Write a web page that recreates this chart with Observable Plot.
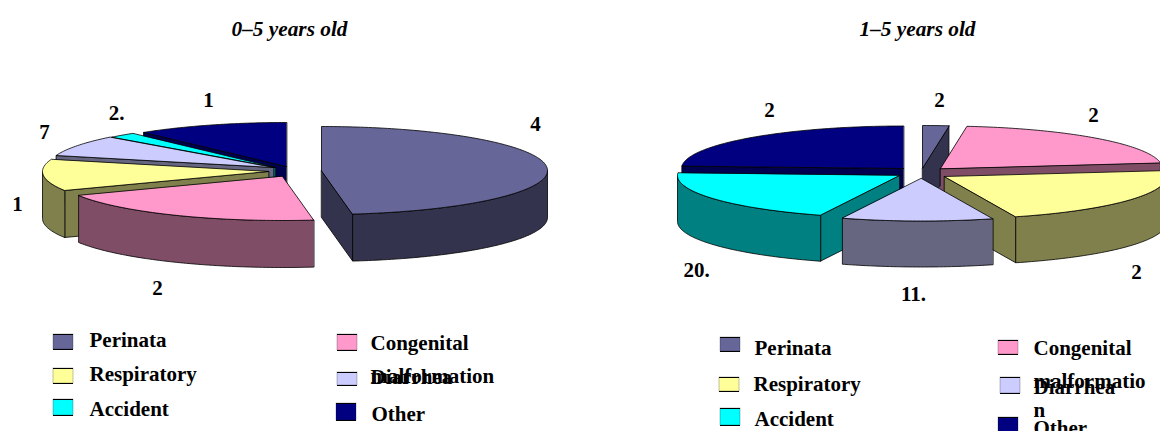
<!DOCTYPE html>
<html>
<head>
<meta charset="utf-8">
<script src="https://cdn.jsdelivr.net/npm/d3@7"></script>
<script src="https://cdn.jsdelivr.net/npm/@observablehq/plot@0.6"></script>
<style>
html,body{margin:0;padding:0;background:#fff;overflow:hidden}
svg{display:block}
</style>
</head>
<body>
<div id="chart"></div>
<script>
// ---- data ----
const categories = ["Perinata", "Congenital", "Respiratory", "Diarrhea", "Accident", "Other"];
const shares05 = [47.8, 20.1, 11.5, 7.7, 2.0, 10.9];
const shares15 = [1.9, 20.9, 22.0, 11.0, 20.1, 24.1];
const labels05 = ["4", "2", "1", "7", "2.", "1"];
const labels15 = ["2", "2", "2", "11.", "20.", "2"];
const titles = ["0–5 years old", "1–5 years old"];

// ---- styles ----
const topColors = ["#666699", "#FF99CC", "#FFFF99", "#CCCCFF", "#00FFFF", "#000080"];
const sideColors = ["#33334D", "#804D66", "#80804D", "#666680", "#008080", "#000050"];

// ---- layout ----
const left = {
  shares: shares05, labels: labels05, rx: 226, ry: 44, depth: 47,
  centerX: [321, 282, 268, 273, 275, 286],
  centerY: [170, 176, 171, 167, 167, 166],
  order: [5, 4, 3, 2, 1, 0],
  labelX: [535, 157, 17, 44, 116, 208],
  labelY: [124, 288, 204, 132, 113, 100]
};
const right = {
  shares: shares15, labels: labels15, rx: 222, ry: 42.5, depth: 46,
  centerX: [922, 940, 944, 921, 899, 903],
  centerY: [167.5, 168, 176, 178, 175, 168],
  order: [5, 0, 1, 4, 2, 3],
  labelX: [939, 1093, 1136, 913, 696, 769],
  labelY: [100, 115, 272, 294, 270, 110]
};

const legendRows = [
  {t: categories[0], c: 0, x: 89, y: 346, sx: 53, sy1: 334, sy2: 349},
  {t: categories[1], c: 1, x: 370, y: 349, sx: 337, sy1: 334, sy2: 350},
  {t: "malformation", x: 370, y: 382},
  {t: categories[2], c: 2, x: 89, y: 380, sx: 53, sy1: 368, sy2: 383},
  {t: categories[3], c: 3, x: 370, y: 383, sx: 337, sy1: 372, sy2: 385},
  {t: categories[4], c: 4, x: 89, y: 415, sx: 53, sy1: 399, sy2: 415},
  {t: categories[5], c: 5, x: 371, y: 420, sx: 336, sy1: 403, sy2: 420},
  {t: categories[0], c: 0, x: 754, y: 354, sx: 720, sy1: 337, sy2: 351},
  {t: categories[1], c: 1, x: 1033, y: 354, sx: 998, sy1: 340, sy2: 354},
  {t: "malformatio", x: 1033, y: 387},
  {t: "n", x: 1033, y: 416},
  {t: categories[2], c: 2, x: 753, y: 390, sx: 719, sy1: 377, sy2: 391},
  {t: categories[3], c: 3, x: 1033, y: 393, sx: 1000, sy1: 377, sy2: 393},
  {t: categories[4], c: 4, x: 754, y: 425, sx: 720, sy1: 408, sy2: 425},
  {t: categories[5], c: 5, x: 1033, y: 434, sx: 998, sy1: 417, sy2: 434}
];

// ---- build faces of an exploded 3D pie from the shares ----
function facesOf(pie, prefix) {
  const {shares, rx, ry, depth, centerX, centerY, order} = pie;
  const total = d3.sum(shares);
  const ends = d3.cumsum(shares).map(v => v / total * 360);
  const rows = [];
  order.forEach(i => {
    const a = i === 0 ? 0 : ends[i - 1], b = ends[i];
    const cx = centerX[i], cy = centerY[i];
    const pt = deg => {
      const r = deg * Math.PI / 180;
      return [cx + rx * Math.sin(r), cy - ry * Math.cos(r)];
    };
    const poly = (name, fill, pts) => pts.forEach(([x, y]) => rows.push({x, y, z: `${prefix}-${i}-${name}`, fill}));
    const radial = deg => {
      const [x, y] = pt(deg);
      return [[cx, cy], [x, y], [x, y + depth], [cx, cy + depth]];
    };
    const range = (s, e) => { const out = []; for (let t = s; t < e; t += 1) out.push(t); out.push(e); return out; };
    // radial walls that face the viewer
    if (Math.sin(a * Math.PI / 180) < -1e-6) poly("start", sideColors[i], radial(a));
    if (Math.sin(b * Math.PI / 180) > 1e-6) poly("end", sideColors[i], radial(b));
    // outer wall, front half only
    const s = Math.max(a, 90), e = Math.min(b, 270);
    if (e > s) {
      const arc = range(s, e).map(pt);
      poly("arc", sideColors[i], [...arc, ...arc.slice().reverse().map(([x, y]) => [x, y + depth])]);
    }
    // top face
    poly("top", topColors[i], [[cx, cy], ...range(a, b).map(pt)]);
  });
  return rows;
}

const faces = [...facesOf(left, "L"), ...facesOf(right, "R")];
const sliceLabels = [left, right].flatMap(p => p.labels.map((t, i) => ({t, x: p.labelX[i], y: p.labelY[i]})));
const titleRows = [{t: titles[0], x: 289, y: 29}, {t: titles[1], x: 917, y: 29}];
const swatches = legendRows.filter(d => d.c !== undefined).map(d => ({...d, x1: d.sx, x2: d.sx + 20, fill: topColors[d.c]}));

const chart = Plot.plot({
  width: 1160,
  height: 431,
  margin: 0,
  x: {domain: [0, 1160], range: [0, 1160], axis: null},
  y: {domain: [0, 431], range: [0, 431], axis: null},
  color: {type: "identity"},
  style: {background: "#fff"},
  marks: [
    Plot.line(faces, {x: "x", y: "y", z: "z", fill: "fill", stroke: "#000", strokeWidth: 0.8, strokeOpacity: 1, curve: "linear-closed"}),
    Plot.rect(swatches, {x1: "x1", x2: "x2", y1: "sy1", y2: "sy2", fill: "fill", stroke: "#000", strokeWidth: 0.7, strokeOpacity: 0.35}),
    Plot.ruleY(swatches, {y: "sy1", x1: "x1", x2: "x2", stroke: "#000", strokeWidth: 1}),
    Plot.ruleY(swatches, {y: "sy2", x1: "x1", x2: "x2", stroke: "#000", strokeWidth: 1}),
    Plot.text(legendRows, {x: "x", y: d => d.y - 6.7, text: "t", textAnchor: "start", fontFamily: "Liberation Serif", fontWeight: "bold", fontSize: 21, fill: "#000"}),
    Plot.text(sliceLabels, {x: "x", y: "y", text: "t", fontFamily: "Liberation Serif", fontWeight: "bold", fontSize: 21, fill: "#000"}),
    Plot.text(titleRows, {x: "x", y: "y", text: "t", fontFamily: "Liberation Serif", fontWeight: "bold", fontStyle: "italic", fontSize: 21.3, fill: "#000"})
  ]
});
document.getElementById("chart").appendChild(chart);
</script>
</body>
</html>
